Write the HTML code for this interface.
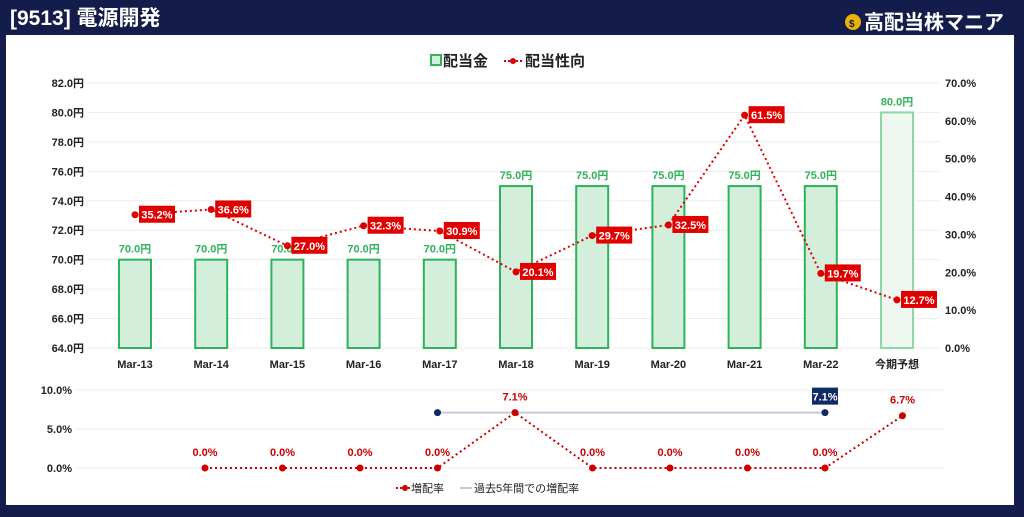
<!DOCTYPE html>
<html><head><meta charset="utf-8"><style>
body{margin:0;width:1024px;height:512px;background:#141c4b;overflow:hidden;font-family:"Liberation Mono","Noto Sans CJK JP",monospace}
svg text{font-family:"Liberation Sans","Noto Sans CJK JP",sans-serif}
</style></head><body>
<svg id="c" width="1024" height="512">
<rect x="0" y="0" width="1024" height="512" fill="#141c4b"/>
<text x="10" y="25" fill="#fff" font-size="21" font-weight="bold">[9513] 電源開発</text>
<g>
<circle cx="853" cy="22" r="8" fill="#e8b400"/><text x="849" y="27" font-size="10" fill="#141c4b" font-weight="bold">$</text>
<text x="864" y="29" fill="#fff" font-size="20" font-weight="bold">高配当株マニア</text></g>
<rect x="6" y="35" width="1008" height="470" fill="#fff"/>
<g>
<rect x="431" y="55" width="10" height="10" fill="#d4eedc" stroke="#2eb35a" stroke-width="2"/>
<text x="443" y="66" font-size="15" font-weight="bold" fill="#222">配当金</text>
<line x1="504" y1="61" x2="522" y2="61" stroke="#d00" stroke-width="2" stroke-dasharray="2,2"/><circle cx="513" cy="61" r="3" fill="#d00"/>
<text x="525" y="66" font-size="15" font-weight="bold" fill="#222">配当性向</text></g>
<g>
<line x1="396" y1="488" x2="410" y2="488" stroke="#c00" stroke-width="2" stroke-dasharray="2,2"/><circle cx="405" cy="488" r="3" fill="#c00"/>
<text x="411" y="492" font-size="11" fill="#222">増配率</text>
<line x1="460" y1="488" x2="472" y2="488" stroke="#bbb" stroke-width="1.5"/>
<text x="474" y="492" font-size="11" fill="#222">過去5年間での増配率</text></g>
<g id="g"></g>
</svg>
<script>
const categories=["Mar-13","Mar-14","Mar-15","Mar-16","Mar-17","Mar-18","Mar-19","Mar-20","Mar-21","Mar-22","今期予想"];
const dividends=[70,70,70,70,70,75,75,75,75,75,80];
const payout=[35.2,36.6,27.0,32.3,30.9,20.1,29.7,32.5,61.5,19.7,12.7];
const growth=[null,0,0,0,0,7.1,0,0,0,0,6.7];
const avg5=7.1;
const leftTicks=[64,66,68,70,72,74,76,78,80,82];
const rightTicks=[0,10,20,30,40,50,60,70];
const lowTicks=[0,5,10];
const NS="http://www.w3.org/2000/svg",g=document.getElementById('g');
function el(t,a,txt){const e=document.createElementNS(NS,t);for(const k in a)e.setAttribute(k,a[k]);if(txt!==undefined)e.textContent=txt;g.appendChild(e);return e;}
const xc=i=>135+i*76.2;
const xg=i=>127.5+i*77.5;
const yL=v=>348-(v-64)*(265/18);
const yR=v=>348-v*(265/70);
const yG=v=>468-v*7.8;
leftTicks.forEach(v=>{const l=el('line',{x1:88,x2:940,y1:yL(v),y2:yL(v),stroke:'#eee'});
const t=el('text',{x:84,y:yL(v)+4,'text-anchor':'end','font-size':11,'font-weight':'bold',fill:'#222'},v.toFixed(1)+'円');});
rightTicks.forEach(v=>{const t=el('text',{x:945,y:yR(v)+4,'font-size':11,'font-weight':'bold',fill:'#222'},v.toFixed(1)+'%');});
lowTicks.forEach(v=>{const l=el('line',{x1:75,x2:945,y1:yG(v),y2:yG(v),stroke:'#eee'});
const t=el('text',{x:72,y:yG(v)+4,'text-anchor':'end','font-size':11,'font-weight':'bold',fill:'#222'},v.toFixed(1)+'%');});
categories.forEach((c,i)=>{const t=el('text',{x:xc(i),y:368,'text-anchor':'middle','font-size':11,'font-weight':'bold',fill:'#222'},c);});
dividends.forEach((v,i)=>{const last=i==dividends.length-1;
const b=el('rect',{x:xc(i)-16,y:yL(v),width:32,height:348-yL(v),fill:last?'#eef8f1':'#d4eedc',stroke:last?'#8ed6a6':'#2eb35a','stroke-width':2});
const t=el('text',{x:xc(i),y:yL(v)-7,'text-anchor':'middle','font-size':11,'font-weight':'bold',fill:'#2eb35a'},v.toFixed(1)+'円');});
const pl=el('polyline',{points:payout.map((v,i)=>xc(i)+','+yR(v)).join(' '),fill:'none',stroke:'#d00','stroke-width':2,'stroke-dasharray':'2,3'});

payout.forEach((v,i)=>{const p=el('circle',{cx:xc(i),cy:yR(v),r:3.5,fill:'#d00'});
const r=el('rect',{x:xc(i)+4,y:yR(v)-9,width:36,height:17,fill:'#e00000'});
const t=el('text',{x:xc(i)+22,y:yR(v)+4,'text-anchor':'middle','font-size':11,'font-weight':'bold',fill:'#fff'},v.toFixed(1)+'%');});
const al=el('line',{x1:xg(4),x2:xg(9),y1:yG(avg5),y2:yG(avg5),stroke:'#c8cad8','stroke-width':2});
[4,9].forEach(i=>{const c=el('circle',{cx:xg(i),cy:yG(avg5),r:3.5,fill:'#102a66'});});
const ab=el('rect',{x:xg(9)-13,y:yG(avg5)-25,width:26,height:17,fill:'#102a66'});
const at=el('text',{x:xg(9),y:yG(avg5)-12,'text-anchor':'middle','font-size':11,'font-weight':'bold',fill:'#fff'},avg5.toFixed(1)+'%');
const gi=growth.map((v,i)=>[v,i]).filter(d=>d[0]!==null);
const gl=el('polyline',{points:gi.map(d=>xg(d[1])+','+yG(d[0])).join(' '),fill:'none',stroke:'#c00','stroke-width':2,'stroke-dasharray':'2,3'});

gi.forEach(([v,i])=>{const p=el('circle',{cx:xg(i),cy:yG(v),r:3.5,fill:'#c00'});
const t=el('text',{x:xg(i),y:yG(v)-12,'text-anchor':'middle','font-size':11,'font-weight':'bold',fill:'#c00'},v.toFixed(1)+'%');});
</script>
</body></html>
